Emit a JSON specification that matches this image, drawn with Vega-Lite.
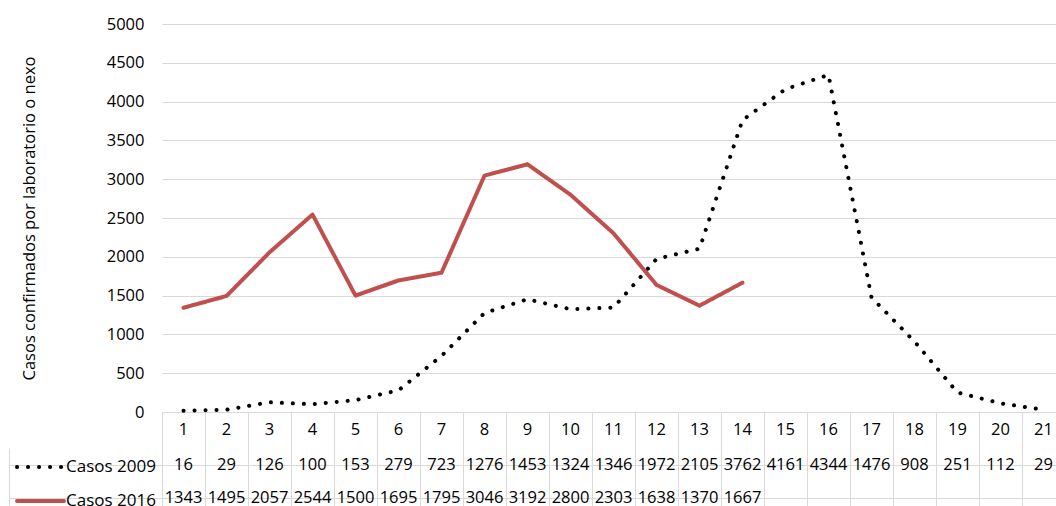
{
  "$schema": "https://vega.github.io/schema/vega-lite/v6.json",
  "padding": {"left": 8, "top": 16, "right": 0, "bottom": 0},
  "bounds": "flush",
  "spacing": 36,
  "config": {"view": {"stroke": null}, "font": "Open Sans"},
  "datasets": {
    "casos": [
      {"semana": 1, "serie": "Casos 2009", "casos": 16},
      {"semana": 2, "serie": "Casos 2009", "casos": 29},
      {"semana": 3, "serie": "Casos 2009", "casos": 126},
      {"semana": 4, "serie": "Casos 2009", "casos": 100},
      {"semana": 5, "serie": "Casos 2009", "casos": 153},
      {"semana": 6, "serie": "Casos 2009", "casos": 279},
      {"semana": 7, "serie": "Casos 2009", "casos": 723},
      {"semana": 8, "serie": "Casos 2009", "casos": 1276},
      {"semana": 9, "serie": "Casos 2009", "casos": 1453},
      {"semana": 10, "serie": "Casos 2009", "casos": 1324},
      {"semana": 11, "serie": "Casos 2009", "casos": 1346},
      {"semana": 12, "serie": "Casos 2009", "casos": 1972},
      {"semana": 13, "serie": "Casos 2009", "casos": 2105},
      {"semana": 14, "serie": "Casos 2009", "casos": 3762},
      {"semana": 15, "serie": "Casos 2009", "casos": 4161},
      {"semana": 16, "serie": "Casos 2009", "casos": 4344},
      {"semana": 17, "serie": "Casos 2009", "casos": 1476},
      {"semana": 18, "serie": "Casos 2009", "casos": 908},
      {"semana": 19, "serie": "Casos 2009", "casos": 251},
      {"semana": 20, "serie": "Casos 2009", "casos": 112},
      {"semana": 21, "serie": "Casos 2009", "casos": 29},
      {"semana": 1, "serie": "Casos 2016", "casos": 1343},
      {"semana": 2, "serie": "Casos 2016", "casos": 1495},
      {"semana": 3, "serie": "Casos 2016", "casos": 2057},
      {"semana": 4, "serie": "Casos 2016", "casos": 2544},
      {"semana": 5, "serie": "Casos 2016", "casos": 1500},
      {"semana": 6, "serie": "Casos 2016", "casos": 1695},
      {"semana": 7, "serie": "Casos 2016", "casos": 1795},
      {"semana": 8, "serie": "Casos 2016", "casos": 3046},
      {"semana": 9, "serie": "Casos 2016", "casos": 3192},
      {"semana": 10, "serie": "Casos 2016", "casos": 2800},
      {"semana": 11, "serie": "Casos 2016", "casos": 2303},
      {"semana": 12, "serie": "Casos 2016", "casos": 1638},
      {"semana": 13, "serie": "Casos 2016", "casos": 1370},
      {"semana": 14, "serie": "Casos 2016", "casos": 1667}
    ]
  },
  "vconcat": [
    {
      "width": 903,
      "height": 388,
      "data": {"name": "casos"},
      "mark": {"type": "line", "strokeWidth": 4, "strokeJoin": "round", "strokeCap": "round"},
      "encoding": {
        "x": {
          "field": "semana", "type": "ordinal", "bandPosition": 0.5,
          "scale": {"type": "band", "paddingInner": 0, "paddingOuter": 0, "domain": [1,2,3,4,5,6,7,8,9,10,11,12,13,14,15,16,17,18,19,20,21]},
          "axis": {
            "title": null, "orient": "bottom", "labelAngle": 0, "bandPosition": 0,
            "grid": false, "domainColor": "#D9D9D9", "tickColor": "#D9D9D9", "tickSize": 36,
            "labelFontSize": 16.5, "labelColor": "#000000", "labelPadding": -27, "labelFont": "Open Sans"
          }
        },
        "y": {
          "field": "casos", "type": "quantitative",
          "scale": {"domain": [0, 5000], "nice": false},
          "axis": {
            "values": [0,500,1000,1500,2000,2500,3000,3500,4000,4500,5000], "format": "d",
            "grid": true, "gridColor": "#D9D9D9", "domain": false, "ticks": false,
            "labelPadding": 18, "labelFontSize": 16.5, "labelColor": "#000000", "labelFont": "Open Sans",
            "title": "Casos confirmados por laboratorio o nexo",
            "titleFontSize": 16.5, "titleFontWeight": "normal", "titleColor": "#000000", "titlePadding": 69, "titleFont": "Open Sans"
          }
        },
        "color": {
          "field": "serie", "type": "nominal",
          "scale": {"domain": ["Casos 2009", "Casos 2016"], "range": ["#000000", "#C0504D"]},
          "legend": {
            "title": null, "orient": "none", "legendX": -147, "legendY": 417.5,
            "symbolType": "stroke", "symbolSize": 2209, "symbolStrokeWidth": 4,
            "labelFontSize": 17, "labelColor": "#000000", "labelOffset": 0, "labelFont": "Open Sans",
            "rowPadding": -13.5, "padding": 0,
            "encode": {"symbols": {"update": {"strokeCap": {"value": "round"}}}}
          }
        },
        "strokeDash": {
          "field": "serie", "type": "nominal",
          "scale": {"domain": ["Casos 2009", "Casos 2016"], "range": [[0.1, 10.9], [1, 0]]},
          "legend": null
        }
      }
    },
    {
      "width": 903,
      "height": 67,
      "data": {"name": "casos"},
      "mark": {"type": "text", "fontSize": 16.5, "color": "#000000", "font": "Open Sans"},
      "encoding": {
        "x": {
          "field": "semana", "type": "ordinal",
          "scale": {"type": "band", "paddingInner": 0, "paddingOuter": 0, "domain": [1,2,3,4,5,6,7,8,9,10,11,12,13,14,15,16,17,18,19,20,21]},
          "axis": {"title": null, "orient": "top", "labels": false, "ticks": false, "domain": false, "grid": true, "gridColor": "#D9D9D9", "bandPosition": 0}
        },
        "y": {
          "field": "serie", "type": "nominal",
          "scale": {"domain": ["Casos 2009", "Casos 2016"], "paddingInner": 0, "paddingOuter": 0},
          "axis": {"title": null, "labels": false, "grid": true, "gridColor": "#D9D9D9", "bandPosition": 0,
                   "ticks": true, "tickSize": -153, "tickColor": "#D9D9D9", "domain": true, "domainColor": "#D9D9D9", "offset": 153}
        },
        "text": {"field": "casos", "type": "quantitative", "format": "d"}
      }
    }
  ]
}
